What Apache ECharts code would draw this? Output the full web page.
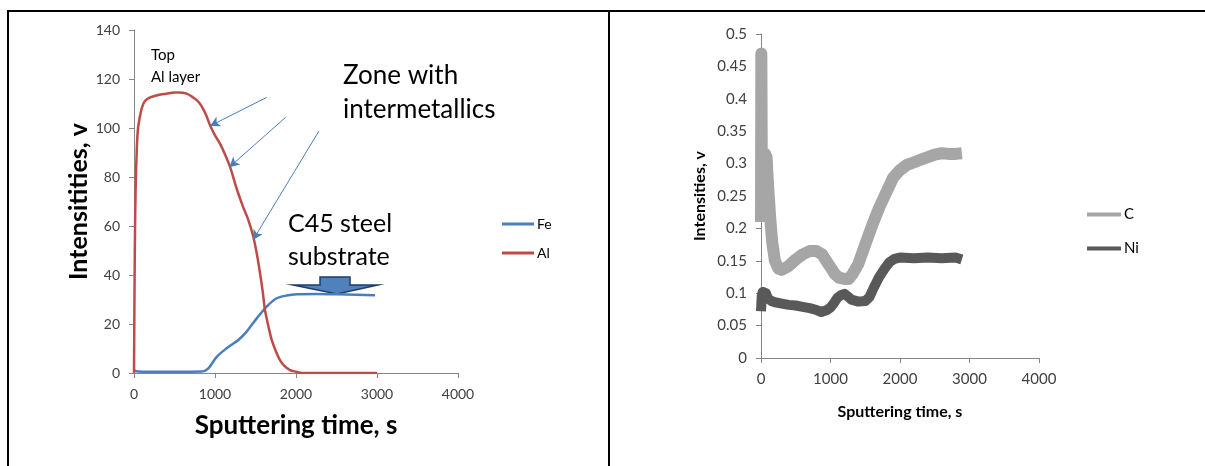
<!DOCTYPE html>
<html>
<head>
<meta charset="utf-8">
<script src="https://cdn.jsdelivr.net/npm/echarts@6/dist/echarts.min.js"></script>
<style>
  html, body { margin: 0; padding: 0; background: #fff; }
  #chart { width: 1205px; height: 466px; }
</style>
</head>
<body>
<div id="chart"></div>
<script>
// left panel: Fe / Al depth profile
const alTime = [0, 10, 20, 35, 50, 75, 100, 136, 200, 300, 400, 500, 550, 650, 750, 800, 850, 900, 940, 1000, 1060, 1120, 1185, 1270, 1350, 1412, 1473, 1520, 1556, 1590, 1617, 1660, 1700, 1750, 1802, 1860, 1926, 2000, 2050, 2150, 2300, 3000]
const alValue = [0, 50, 75, 92, 100, 105, 108.5, 111, 112.5, 113.5, 114, 114.5, 114.5, 114, 112, 110.5, 108, 104.5, 101, 97, 93.7, 89.5, 84.2, 75, 67.5, 62.4, 55.6, 48, 40.7, 33, 25.7, 19, 13.5, 9, 5.3, 2.8, 1.2, 0.5, 0.1, 0, 0, 0]
const feTime = [0, 50, 200, 500, 836, 918, 1021, 1144, 1288, 1391, 1515, 1638, 1761, 1885, 2008, 2250, 2502, 2750, 2975]
const feValue = [1, 0.6, 0.5, 0.5, 0.6, 1.9, 6.6, 10.1, 13.5, 16.9, 22.3, 27.1, 30.5, 31.6, 32.1, 32.2, 32.1, 31.9, 31.7]

// right panel: C / Ni
const cTime = [0, 5, 12, 20, 30, 45, 60, 80, 100, 130, 160, 200, 250, 300, 400, 500, 600, 700, 800, 880, 950, 1000, 1060, 1120, 1200, 1260, 1320, 1400, 1500, 1600, 1700, 1800, 1900, 2000, 2100, 2200, 2300, 2400, 2500, 2600, 2700, 2800, 2890]
const cValue = [0.21, 0.47, 0.28, 0.26, 0.28, 0.31, 0.315, 0.31, 0.27, 0.22, 0.18, 0.15, 0.138, 0.136, 0.142, 0.152, 0.16, 0.165, 0.165, 0.16, 0.148, 0.14, 0.13, 0.124, 0.122, 0.122, 0.13, 0.145, 0.175, 0.205, 0.232, 0.255, 0.278, 0.29, 0.298, 0.302, 0.306, 0.31, 0.314, 0.316, 0.315, 0.315, 0.316]
const niTime = [0, 10, 25, 45, 70, 100, 150, 200, 300, 400, 500, 600, 700, 800, 870, 950, 1000, 1050, 1100, 1150, 1200, 1250, 1300, 1400, 1500, 1560, 1620, 1700, 1780, 1850, 1920, 2000, 2200, 2400, 2600, 2800, 2890]
const niValue = [0.072, 0.095, 0.102, 0.105, 0.1, 0.092, 0.088, 0.086, 0.084, 0.082, 0.081, 0.079, 0.077, 0.074, 0.071, 0.074, 0.078, 0.085, 0.093, 0.097, 0.099, 0.095, 0.09, 0.087, 0.088, 0.094, 0.108, 0.125, 0.138, 0.148, 0.153, 0.155, 0.154, 0.155, 0.154, 0.155, 0.152]

// annotation arrows in data units [from, to]
const zoneArrows = [
  [[1638, 112.5], [938, 100.8]],
  [[1873, 104.4], [1177, 84.0]],
  [[2284, 98.8], [1469, 54.3]]
]

const pairs = (xs, ys) => xs.map((x, i) => [x, ys[i]])

const font = 'Lato, "Open Sans", sans-serif'
const axisGray = '#868686'
const labelColor = '#404040'

const valueAxis = (extra, labelSize, nameSize) => Object.assign({
  type: 'value',
  axisLine: { show: true, lineStyle: { color: axisGray } },
  axisTick: { show: true, inside: false, length: 5, lineStyle: { color: axisGray } },
  splitLine: { show: false },
  axisLabel: { color: labelColor, fontFamily: font, fontSize: labelSize, margin: 14, formatter: v => String(v) },
  nameLocation: 'middle',
  nameTextStyle: { color: '#000', fontFamily: font, fontWeight: 'bold', fontSize: nameSize }
}, extra)

const chart = echarts.init(document.getElementById('chart'))

const option = {
  animation: false,
  textStyle: { fontFamily: font },
  grid: [
    { left: 134, top: 30, width: 324, height: 343 },
    { left: 761, top: 34, width: 278, height: 324 }
  ],
  xAxis: [
    valueAxis({ gridIndex: 0, min: 0, max: 4000, interval: 1000, name: 'Sputtering time, s', nameGap: 40 }, 14, 26),
    valueAxis({ gridIndex: 1, min: 0, max: 4000, interval: 1000, name: 'Sputtering time, s', nameGap: 46 }, 15, 16)
  ],
  yAxis: [
    valueAxis({ gridIndex: 0, min: 0, max: 140, interval: 20, name: 'Intensitities, v', nameGap: 43 }, 14, 25),
    valueAxis({ gridIndex: 1, min: 0, max: 0.5, interval: 0.05, name: 'Intensities, v', nameGap: 53 }, 15, 16)
  ],
  legend: [
    {
      data: ['Fe', 'Al'], orient: 'vertical', left: 497, top: 212,
      itemWidth: 32, itemHeight: 14, itemGap: 15,
      icon: 'path://M0,6L32,6L32,9L0,9Z',
      textStyle: { color: '#000', fontFamily: font, fontSize: 14, padding: [0, 0, 0, -2] }
    },
    {
      data: ['C', 'Ni'], orient: 'vertical', left: 1082, top: 202,
      itemWidth: 34, itemHeight: 14, itemGap: 19,
      icon: 'path://M0,5L34,5L34,9L0,9Z',
      textStyle: { color: '#000', fontFamily: font, fontSize: 15, padding: [0, 0, 0, -2] }
    }
  ],
  series: [
    {
      name: 'Fe', type: 'line', xAxisIndex: 0, yAxisIndex: 0, data: pairs(feTime, feValue),
      symbol: 'none', smooth: 0.3, color: '#4a7ebb', lineStyle: { width: 2.5, color: '#4a7ebb' }
    },
    {
      name: 'Al', type: 'line', xAxisIndex: 0, yAxisIndex: 0, data: pairs(alTime, alValue),
      symbol: 'none', smooth: 0.3, color: '#be4b48', lineStyle: { width: 2.5, color: '#be4b48' },
      markLine: {
        silent: true, animation: false,
        symbol: ['none', 'arrow'], symbolSize: [8, 10],
        label: { show: false },
        lineStyle: { color: '#4a7ebb', width: 1, type: 'solid' },
        emphasis: { disabled: true },
        data: zoneArrows.map(a => [{ coord: a[0] }, { coord: a[1] }])
      }
    },
    {
      name: 'C', type: 'line', xAxisIndex: 1, yAxisIndex: 1, data: pairs(cTime, cValue),
      symbol: 'none', color: '#a6a6a6', lineStyle: { width: 12, color: '#a6a6a6', join: 'round' }
    },
    {
      name: 'Ni', type: 'line', xAxisIndex: 1, yAxisIndex: 1, data: pairs(niTime, niValue),
      symbol: 'none', color: '#595959', lineStyle: { width: 10, color: '#595959', join: 'round' }
    }
  ],
  graphic: [
    // table borders
    { type: 'line', shape: { x1: 7, y1: 11, x2: 1205, y2: 11 }, style: { stroke: '#000', lineWidth: 2 } },
    { type: 'line', shape: { x1: 8, y1: 10, x2: 8, y2: 466 }, style: { stroke: '#000', lineWidth: 2 } },
    { type: 'line', shape: { x1: 609, y1: 10, x2: 609, y2: 466 }, style: { stroke: '#000', lineWidth: 2 } },
    // annotations
    { type: 'text', left: 151, top: 44, style: { text: 'Top\nAl layer', font: '15px ' + font, lineHeight: 22, fill: '#000' } },
    { type: 'text', left: 343, top: 59, style: { text: 'Zone with\nintermetallics', font: '26px ' + font, lineHeight: 34, fill: '#000' } },
    { type: 'text', left: 288, top: 207, style: { text: 'C45 steel\nsubstrate', font: '25px ' + font, lineHeight: 33, fill: '#000' } },
    // block arrow pointing at the substrate plateau
    {
      type: 'polygon',
      shape: { points: [[320, 277], [350, 277], [350, 285], [378, 285], [337, 294], [293, 285], [320, 285]] },
      style: { fill: '#4f81bd', stroke: '#1f3d66', lineWidth: 1.5 }
    }
  ]
}

chart.setOption(option)
</script>
</body>
</html>
